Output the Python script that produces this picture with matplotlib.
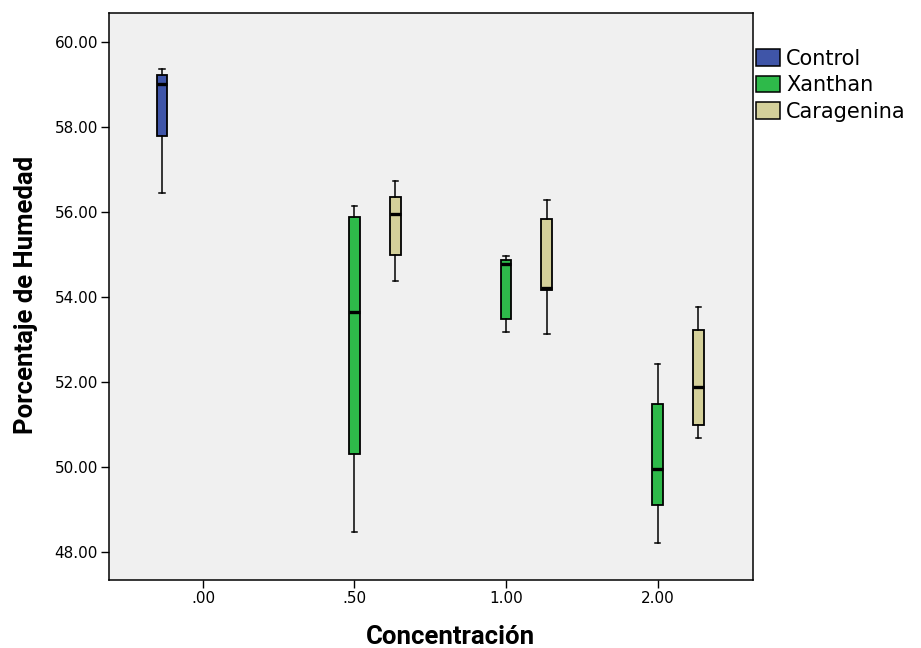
import matplotlib
matplotlib.use('Agg')
import matplotlib.pyplot as plt
from matplotlib.patches import Patch

# categories on the x axis
categories = ['.00', '.50', '1.00', '2.00']
groups = ['Control', 'Xanthan', 'Caragenina']
colors = {'Control': '#3F55A8', 'Xanthan': '#2EBA4A', 'Caragenina': '#D4D09A'}
offsets = {'Control': -0.27, 'Xanthan': 0.0, 'Caragenina': 0.27}

# box statistics (category index, whisker low, q1, median, q3, whisker high)
control_cat = [0]
control_whislo = [56.45]
control_q1 = [57.78]
control_med = [59.01]
control_q3 = [59.22]
control_whishi = [59.36]

xanthan_cat = [1, 2, 3]
xanthan_whislo = [48.46, 53.18, 48.22]
xanthan_q1 = [50.31, 53.47, 49.11]
xanthan_med = [53.64, 54.77, 49.94]
xanthan_q3 = [55.87, 54.86, 51.49]
xanthan_whishi = [56.15, 54.96, 52.42]

carag_cat = [1, 2, 3]
carag_whislo = [54.37, 53.13, 50.68]
carag_q1 = [54.99, 54.16, 50.99]
carag_med = [55.95, 54.20, 51.89]
carag_q3 = [56.35, 55.84, 53.23]
carag_whishi = [56.73, 56.28, 53.77]

data = {
    'Control': (control_cat, control_whislo, control_q1, control_med, control_q3, control_whishi),
    'Xanthan': (xanthan_cat, xanthan_whislo, xanthan_q1, xanthan_med, xanthan_q3, xanthan_whishi),
    'Caragenina': (carag_cat, carag_whislo, carag_q1, carag_med, carag_q3, carag_whishi),
}

fig = plt.figure(figsize=(9.21, 6.48), dpi=100)
W, H = 921, 648
ax = fig.add_axes([109 / W, 1 - 580 / H, (753 - 109) / W, (580 - 13) / H])
ax.set_facecolor('#F0F0F0')

for g in groups:
    cat, lo, q1, med, q3, hi = data[g]
    stats = []
    for i in range(len(cat)):
        stats.append(dict(whislo=lo[i], q1=q1[i], med=med[i], q3=q3[i], whishi=hi[i], fliers=[]))
    pos = [c + offsets[g] for c in cat]
    ax.bxp(stats, positions=pos, widths=0.072, capwidths=0.035, patch_artist=True,
           showfliers=False, manage_ticks=False,
           boxprops=dict(facecolor=colors[g], edgecolor='black', linewidth=1.3),
           medianprops=dict(color='black', linewidth=2.4, solid_capstyle='butt'),
           whiskerprops=dict(color='black', linewidth=1.1),
           capprops=dict(color='black', linewidth=1.1))

ax.set_xlim(-0.62, 3.63)
ax.set_ylim(47.34, 60.68)
ax.set_xticks(range(len(categories)))
ax.set_xticklabels(categories)
ax.set_yticks([48, 50, 52, 54, 56, 58, 60])
ax.set_yticklabels(['%.2f' % v for v in [48, 50, 52, 54, 56, 58, 60]])
ax.tick_params(direction='out', length=6, width=1.0, labelsize=11, colors='black', pad=2)
for lab in ax.get_xticklabels() + ax.get_yticklabels():
    lab.set_family('DejaVu Sans')
for s in ax.spines.values():
    s.set_linewidth(1.1)
    s.set_color('black')

fig.text(450 / W, 1 - 637 / H, 'Concentración', family='Roboto', weight='bold',
         fontsize=18.5, ha='center', va='center')
fig.text(26 / W, 1 - 295 / H, 'Porcentaje de Humedad', family='Roboto', weight='bold',
         fontsize=18.5, ha='center', va='center', rotation=90)

handles = [Patch(facecolor=colors[g], edgecolor='black', linewidth=1.1, label=g) for g in groups]
fig.legend(handles=handles, loc='upper left', bbox_to_anchor=(756 / W, 1 - 49 / H),
           frameon=False, prop=dict(family='DejaVu Sans', size=15),
           handlelength=1.15, handleheight=0.87, handletextpad=0.3,
           labelspacing=0.3, borderpad=0, borderaxespad=0)

fig.savefig('out.png', dpi=100)
